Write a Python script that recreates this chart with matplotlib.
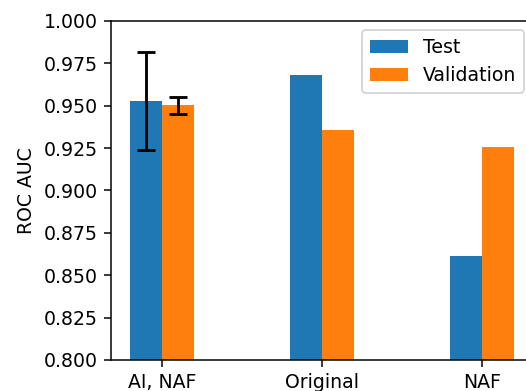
import matplotlib
matplotlib.use("Agg")
import matplotlib.pyplot as plt
import numpy as np

categories = ["AI, NAF", "Original", "NAF"]
test_values = [0.9528, 0.968, 0.8614]
test_errors = [0.029, 0.0, 0.0]
val_values = [0.9503, 0.9355, 0.9255]
val_errors = [0.005, 0.0, 0.0]

dpi = 136
fig = plt.figure(figsize=(526 / dpi, 391 / dpi), dpi=dpi)
ax = fig.add_axes([111 / 526, 31 / 391, 422 / 526, 339 / 391])

x = np.arange(len(categories))
w = 0.2
test_err = [e if e > 0 else np.nan for e in test_errors]
val_err = [e if e > 0 else np.nan for e in val_errors]
ax.bar(x - w / 2, test_values, w, yerr=test_err, capsize=5, label="Test",
       color="#1f77b4", error_kw=dict(elinewidth=1.5, capthick=1.5))
ax.bar(x + w / 2, val_values, w, yerr=val_err, capsize=5, label="Validation",
       color="#ff7f0e", error_kw=dict(elinewidth=1.5, capthick=1.5))

ax.set_xticks(x)
ax.set_xticklabels(categories)
ax.set_ylim(0.8, 1.0)
ax.set_xlim(-0.32, 2.32)
ax.set_ylabel("ROC AUC")
ax.legend(loc="upper right")

fig.savefig("out.png", dpi=dpi)
